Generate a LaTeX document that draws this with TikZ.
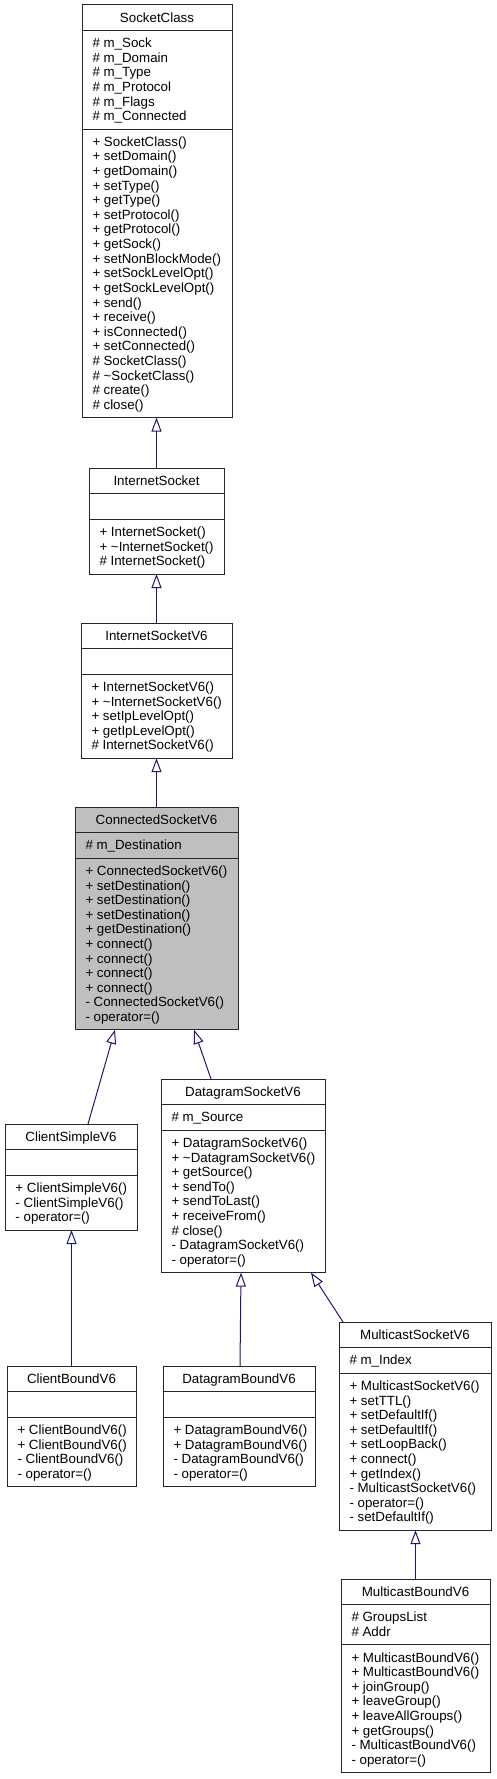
\documentclass[tikz,border=0pt]{standalone}
\usepackage{fontspec}
\setmainfont{Liberation Sans}
\usetikzlibrary{arrows.meta,calc}
\definecolor{arrowblue}{RGB}{25,25,112}
\definecolor{boxgray}{RGB}{191,191,191}
\def\Lh{14.6}
\def\Pd{11}
\def\Off{17.2}
\def\Lm{10.5}
\tikzset{
  classbox/.style={draw=black!85, line width=1pt, inner sep=0pt, outer sep=0pt},
  sepline/.style={draw=black!85, line width=1pt},
  txt/.style={font=\fontsize{13.33}{14.6}\selectfont, inner sep=0pt, outer sep=0pt},
  inh/.style={draw=arrowblue, line width=1pt, -{Triangle[open, length=14pt, width=10pt]}}
}
% [fill]{left}{right}{top}{title/id}{nattr}{attrs}{nmeth}{meths}
\newcommand\umlbox[9][white]{%
  \pgfmathsetmacro\ya{#4+\Lh+\Pd}%
  \pgfmathsetmacro\yb{\ya+max(#6,1)*\Lh+\Pd}%
  \pgfmathsetmacro\yc{\yb+max(#8,1)*\Lh+\Pd}%
  \node[classbox, fill=#1, minimum width={#3-#2}, minimum height={\yc-#4}, anchor=north west] (#5) at (#2,#4) {};
  \draw[sepline] (#2,\ya) -- (#3,\ya);
  \draw[sepline] (#2,\yb) -- (#3,\yb);
  \node[txt, anchor=base] (#5-title) at ({(#2+#3)/2},{#4+\Off}) {#5};
  \ifnum#6>0
    \foreach \t [count=\i from 0] in {#7} {\node[txt, anchor=base west] at ({#2+\Lm},{\ya+\Off+\i*\Lh}) {\t};}%
  \fi
  \ifnum#8>0
    \foreach \t [count=\i from 0] in {#9} {\node[txt, anchor=base west] at ({#2+\Lm},{\yb+\Off+\i*\Lh}) {\t};}%
  \fi
}
\begin{document}
\begin{tikzpicture}[x=1pt,y=-1pt]
\useasboundingbox (0,0) rectangle (497,1779);

\umlbox{82}{232}{5}{SocketClass}{6}{\# m\_Sock,\# m\_Domain,\# m\_Type,\# m\_Protocol,\# m\_Flags,\# m\_Connected}{19}{+ SocketClass(),+ setDomain(),+ getDomain(),+ setType(),+ getType(),+ setProtocol(),+ getProtocol(),+ getSock(),+ setNonBlockMode(),+ setSockLevelOpt(),+ getSockLevelOpt(),+ send(),+ receive(),+ isConnected(),+ setConnected(),\# SocketClass(),\# \textasciitilde SocketClass(),\# create(),\# close()}

\umlbox{89}{224}{468}{InternetSocket}{0}{}{3}{+ InternetSocket(),+ \textasciitilde InternetSocket(),\# InternetSocket()}

\umlbox{81}{232}{623}{InternetSocketV6}{0}{}{5}{+ InternetSocketV6(),+ \textasciitilde InternetSocketV6(),+ setIpLevelOpt(),+ getIpLevelOpt(),\# InternetSocketV6()}

\umlbox[boxgray]{75}{238}{807}{ConnectedSocketV6}{1}{\# m\_Destination}{11}{+ ConnectedSocketV6(),+ setDestination(),+ setDestination(),+ setDestination(),+ getDestination(),+ connect(),+ connect(),+ connect(),+ connect(),- ConnectedSocketV6(),- operator=()}

\umlbox{5}{137}{1124}{ClientSimpleV6}{0}{}{3}{+ ClientSimpleV6(),- ClientSimpleV6(),- operator=()}

\umlbox{161}{325}{1079}{DatagramSocketV6}{1}{\# m\_Source}{9}{+ DatagramSocketV6(),+ \textasciitilde DatagramSocketV6(),+ getSource(),+ sendTo(),+ sendToLast(),+ receiveFrom(),\# close(),- DatagramSocketV6(),- operator=()}

\umlbox{7}{136}{1366}{ClientBoundV6}{0}{}{4}{+ ClientBoundV6(),+ ClientBoundV6(),- ClientBoundV6(),- operator=()}

\umlbox{163}{315}{1366}{DatagramBoundV6}{0}{}{4}{+ DatagramBoundV6(),+ DatagramBoundV6(),- DatagramBoundV6(),- operator=()}

\umlbox{339}{491}{1322}{MulticastSocketV6}{1}{\# m\_Index}{10}{+ MulticastSocketV6(),+ setTTL(),+ setDefaultIf(),+ setDefaultIf(),+ setLoopBack(),+ connect(),+ getIndex(),- MulticastSocketV6(),- operator=(),- setDefaultIf()}

\umlbox{341}{490}{1579}{MulticastBoundV6}{2}{\# GroupsList,\# Addr}{8}{+ MulticastBoundV6(),+ MulticastBoundV6(),+ joinGroup(),+ leaveGroup(),+ leaveAllGroups(),+ getGroups(),- MulticastBoundV6(),- operator=()}

% connector end points
\coordinate (csA) at ($(ClientSimpleV6.north west)+(83,0)$);
\coordinate (conA) at ($(ConnectedSocketV6.south west)+(40,0)$);
\coordinate (dsA) at ($(DatagramSocketV6.north west)+(50,0)$);
\coordinate (conB) at ($(ConnectedSocketV6.south west)+(119,0)$);
\coordinate (dbA) at ($(DatagramBoundV6.north west)+(77,0)$);
\coordinate (dsB) at ($(DatagramSocketV6.south west)+(80,0)$);
\coordinate (msA) at ($(MulticastSocketV6.north west)+(4,0)$);
\coordinate (dsC) at ($(DatagramSocketV6.south west)+(150,0)$);

\draw[inh] (InternetSocket.north) -- (InternetSocket.north |- SocketClass.south);
\draw[inh] (InternetSocketV6.north) -- (InternetSocketV6.north |- InternetSocket.south);
\draw[inh] (ConnectedSocketV6.north) -- (ConnectedSocketV6.north |- InternetSocketV6.south);
\draw[inh] (csA) -- (conA);
\draw[inh] (dsA) -- (conB);
\draw[inh] (ClientBoundV6.north) -- (ClientBoundV6.north |- ClientSimpleV6.south);
\draw[inh] (dbA) -- (dsB);
\draw[inh] (msA) -- (dsC);
\draw[inh] (MulticastBoundV6.north) -- (MulticastBoundV6.north |- MulticastSocketV6.south);
\end{tikzpicture}
\end{document}
